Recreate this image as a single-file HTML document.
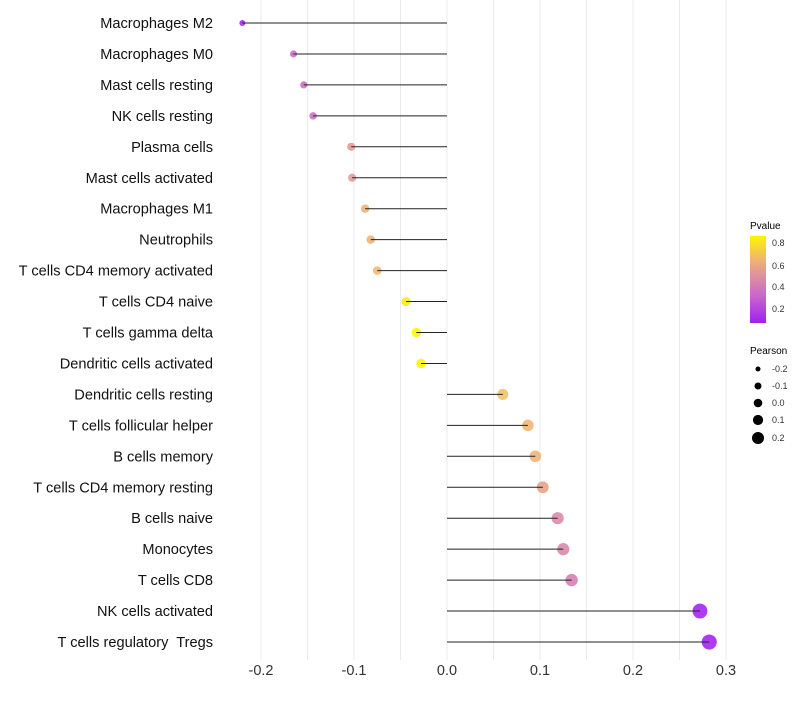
<!DOCTYPE html>
<html><head><meta charset="utf-8"><style>
body{margin:0;background:#fff;font-family:"Liberation Sans",sans-serif;}
svg text{font-family:"Liberation Sans",sans-serif;white-space:pre;}
</style></head><body>
<svg id="chart" width="800" height="700" xmlns="http://www.w3.org/2000/svg">
<defs><linearGradient id="pg" x1="0" y1="1" x2="0" y2="0">
<stop offset="0" stop-color="#A020F0"/><stop offset="0.3" stop-color="#C865CC"/><stop offset="0.5" stop-color="#DB88A8"/><stop offset="0.7" stop-color="#EDAE7A"/><stop offset="1" stop-color="#FFF500"/>
</linearGradient></defs>
<g id="grid"></g><g id="marks"></g><g id="ylab"></g><g id="xlab"></g>
<g>
<text x="750" y="229" font-size="10">Pvalue</text>
<rect x="750" y="236" width="16" height="87" fill="url(#pg)"/>
<text x="772" y="246" font-size="9" fill="#333">0.8</text>
<text x="772" y="269" font-size="9" fill="#333">0.6</text>
<text x="772" y="290" font-size="9" fill="#333">0.4</text>
<text x="772" y="312" font-size="9" fill="#333">0.2</text>
</g>
<g>
<text x="750" y="354" font-size="10">Pearson</text>
<circle cx="758" cy="369" r="2.5"/><text x="772" y="372" font-size="9" fill="#333">-0.2</text>
<circle cx="758" cy="386" r="3.5"/><text x="772" y="389" font-size="9" fill="#333">-0.1</text>
<circle cx="758" cy="403" r="4.3"/><text x="772" y="406" font-size="9" fill="#333">0.0</text>
<circle cx="758" cy="420" r="5.1"/><text x="772" y="423" font-size="9" fill="#333">0.1</text>
<circle cx="758" cy="438" r="6"/><text x="772" y="441" font-size="9" fill="#333">0.2</text>
</g>
</svg>
<script>
const categories=["Macrophages M2","Macrophages M0","Mast cells resting","NK cells resting","Plasma cells","Mast cells activated","Macrophages M1","Neutrophils","T cells CD4 memory activated","T cells CD4 naive","T cells gamma delta","Dendritic cells activated","Dendritic cells resting","T cells follicular helper","B cells memory","T cells CD4 memory resting","B cells naive","Monocytes","T cells CD8","NK cells activated","T cells regulatory  Tregs"];
const pearson=[-0.220,-0.165,-0.154,-0.144,-0.103,-0.102,-0.088,-0.082,-0.075,-0.044,-0.033,-0.028,0.060,0.087,0.095,0.103,0.119,0.125,0.134,0.272,0.282];
const pvalues=[0.08,0.30,0.33,0.33,0.52,0.52,0.62,0.62,0.66,0.82,0.85,0.85,0.70,0.64,0.62,0.55,0.45,0.44,0.40,0.06,0.05];
const xTicks=[-0.2,-0.1,0.0,0.1,0.2,0.3];
const ns="http://www.w3.org/2000/svg";
const xs=v=>447+v*930;
const ys=i=>23+i*30.95;
const stops=[[0.06,[160,32,240]],[0.3,[200,101,204]],[0.45,[219,136,168]],[0.6,[237,174,122]],[0.72,[243,195,100]],[0.85,[255,245,0]]];
function col(p){if(p<=stops[0][0])return`rgb(${stops[0][1]})`;for(let k=1;k<stops.length;k++){if(p<=stops[k][0]){const a=stops[k-1],b=stops[k],t=(p-a[0])/(b[0]-a[0]);return`rgb(${a[1].map((c,j)=>Math.round(c+(b[1][j]-c)*t))})`;}}return`rgb(${stops[stops.length-1][1]})`;}
function mk(t,a,parent){const e=document.createElementNS(ns,t);for(const k in a)e.setAttribute(k,a[k]);parent.appendChild(e);return e;}
const grid=document.getElementById('grid'),marks=document.getElementById('marks'),yl=document.getElementById('ylab'),xl=document.getElementById('xlab');
for(let v=-0.2;v<=0.301;v+=0.05){const g=mk('line',{x1:xs(v),x2:xs(v),y1:0,y2:660,stroke:'#ebebeb','stroke-width':1},grid);

}
xTicks.forEach(v=>{const t=mk('text',{x:xs(v),y:675,'font-size':14.5,'text-anchor':'middle',fill:'#333'},xl);t.textContent=v.toFixed(1);

});
categories.forEach((c,i)=>{
const y=ys(i),r=Math.max(1.6,5+9*pearson[i]);
const pt=mk('circle',{cx:xs(pearson[i]),cy:y,r:r,fill:col(pvalues[i]),'fill-opacity':0.88},marks);


const ln=mk('line',{x1:xs(0),x2:xs(pearson[i]),y1:y,y2:y,stroke:'#222','stroke-width':1},marks);


const t=mk('text',{x:213,y:y+5,'font-size':14.6,'text-anchor':'end',fill:'#111'},yl);t.textContent=c;


});
</script>
</body></html>
